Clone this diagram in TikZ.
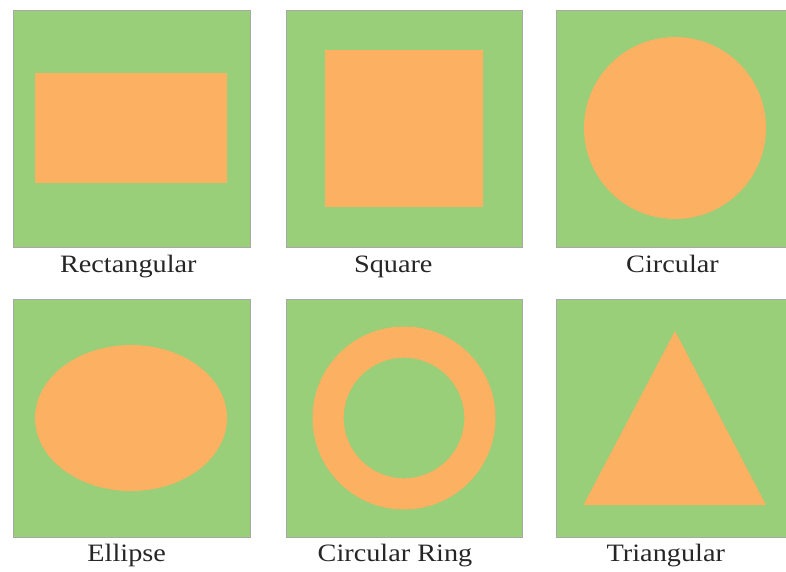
\documentclass[tikz,border=0pt]{standalone}
\usepackage{fontspec}
\setmainfont{Liberation Serif}
\definecolor{bggreen}{HTML}{98CF78}
\definecolor{shapeor}{HTML}{FBB062}
\definecolor{edgegray}{HTML}{A8A8A8}
\tikzset{
  panel/.style={fill=bggreen, draw=edgegray, line width=0.8pt},
  shapefill/.style={fill=shapeor, draw=none},
  lbl/.style={anchor=base, inner sep=0pt, font=\fontsize{25}{30}\selectfont, text=black!85}
}
\newcommand{\wlbl}[1]{\scalebox{1.13}[1]{#1}}
\begin{document}
\begin{tikzpicture}[x=1pt, y=-1pt]
\useasboundingbox (0,0) rectangle (786,572);
\begin{scope}
\clip (0,0) rectangle (786,572);
% row 1
\draw[panel] (13,10) rectangle (250,247);
\fill[shapefill] (35,73) rectangle (227,183);
\draw[panel] (286,10) rectangle (522,247);
\fill[shapefill] (325,50) rectangle (483,207);
\draw[panel] (556,10) rectangle (793,247);
\fill[shapefill] (675,128) circle[radius=91];
% row 2
\draw[panel] (13,299) rectangle (250,537);
\fill[shapefill] (131,418) ellipse[x radius=96, y radius=73];
\draw[panel] (286,299) rectangle (522,537);
\fill[shapefill, even odd rule] (404,418) circle[radius=91.5] (404,418) circle[radius=60.3];
\draw[panel] (556,299) rectangle (793,537);
\fill[shapefill] (675,331) -- (766,505) -- (583.5,505) -- cycle;
\end{scope}
% labels
\node[lbl] (l1) at (128.3,272) {\wlbl{Rectangular}};
\node[lbl] (l2) at (393.3,272) {\wlbl{Square}};
\node[lbl] (l3) at (672.5,272) {\wlbl{Circular}};
\node[lbl] (l4) at (126.7,561) {\wlbl{Ellipse}};
\node[lbl] (l5) at (395,561) {\wlbl{Circular Ring}};
\node[lbl] (l6) at (665.8,561) {\wlbl{Triangular}};
\end{tikzpicture}
\end{document}
